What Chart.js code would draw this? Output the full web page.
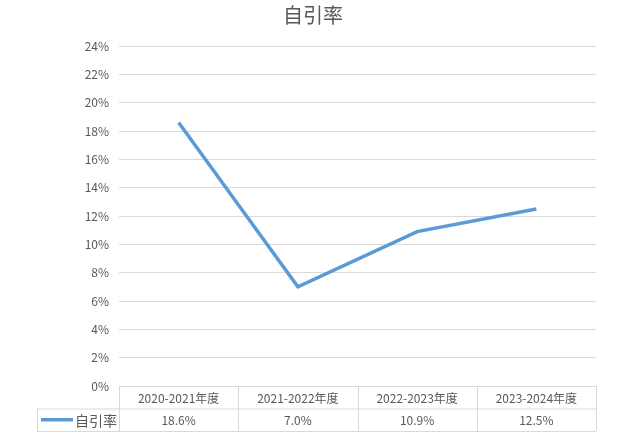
<!DOCTYPE html>
<html><head><meta charset="utf-8">
<script src="https://cdn.jsdelivr.net/npm/chart.js@4"></script>
<style>html,body{margin:0;padding:0;background:#fff}#wrap{width:644px;height:447px}</style>
</head><body><div id="wrap"><canvas id="c" width="644" height="447"></canvas></div>
<script>
const categories = ['2020-2021年度','2021-2022年度','2022-2023年度','2023-2024年度'];
const seriesName = '自引率';
const seriesValues = [18.6, 7.0, 10.9, 12.5];
const valueLabels = ['18.6%','7.0%','10.9%','12.5%'];
const titleText = '自引率';

const FONT = '"Microsoft YaHei","Noto Sans CJK SC","Noto Sans",sans-serif';
const TXT = '#595959';
const LINE = '#5B9BD5';
const GRID = '#D9D9D9';

const tablePlugin = {
  id: 'dataTable',
  afterDraw(chart) {
    const ctx = chart.ctx, x = chart.scales.x, y = chart.scales.y;
    const top = y.bottom, left = x.left, right = x.right;
    const rowH = 22.5;
    const tableLeft = 37;
    ctx.save();
    // title
    ctx.fillStyle = TXT; ctx.textAlign = 'center'; ctx.textBaseline = 'middle';
    ctx.font = '20px ' + FONT;
    ctx.fillText(titleText, 313, 15);
    ctx.strokeStyle = GRID; ctx.lineWidth = 1;
    ctx.beginPath();
    ctx.moveTo(tableLeft, top + rowH + 0.5); ctx.lineTo(right, top + rowH + 0.5);
    ctx.moveTo(tableLeft, top + 2*rowH + 0.5); ctx.lineTo(right, top + 2*rowH + 0.5);
    const n = categories.length;
    const w = (right - left) / n;
    for (let i = 0; i <= n; i++) {
      const xx = Math.round(left + i*w) + 0.5;
      ctx.moveTo(xx, top); ctx.lineTo(xx, top + 2*rowH);
    }
    ctx.moveTo(tableLeft + 0.5, top + rowH); ctx.lineTo(tableLeft + 0.5, top + 2*rowH);
    ctx.stroke();
    ctx.fillStyle = TXT;
    ctx.textAlign = 'center'; ctx.textBaseline = 'middle';
    ctx.font = '12px ' + FONT;
    categories.forEach((c, i) => {
      const cx = x.getPixelForValue(i);
      ctx.fillText(c, cx, top + rowH/2 + 1);
      ctx.fillText(valueLabels[i], cx, top + rowH*1.5 + 1);
    });
    ctx.strokeStyle = LINE; ctx.lineWidth = 3.5;
    ctx.beginPath(); ctx.moveTo(41, top + rowH*1.5); ctx.lineTo(73, top + rowH*1.5); ctx.stroke();
    ctx.save();
    ctx.beginPath(); ctx.rect(tableLeft, top + rowH, left - tableLeft - 2, rowH); ctx.clip();
    ctx.textAlign = 'left'; ctx.font = '14px ' + FONT; ctx.fillStyle = TXT;
    ctx.fillText(seriesName, 75, top + rowH*1.5 + 1);
    ctx.restore();
    ctx.restore();
  }
};

new Chart(document.getElementById('c'), {
  type: 'line',
  data: {
    labels: categories,
    datasets: [{
      label: seriesName,
      data: seriesValues,
      borderColor: LINE,
      borderWidth: 3.5,
      pointRadius: 0,
      tension: 0,
      fill: false
    }]
  },
  options: {
    responsive: false,
    animation: false,
    layout: { padding: { left: 0, right: 48, top: 46, bottom: 61 } },
    plugins: {
      legend: { display: false },
      tooltip: { enabled: false },
      title: { display: false }
    },
    scales: {
      x: { type: 'category', offset: true, display: false },
      y: {
        min: 0, max: 24,
        afterFit(s) { s.width = 119; },
        ticks: { stepSize: 2, color: TXT, padding: 10, font: { family: FONT, size: 12 },
          callback: v => v + '%' },
        grid: { color: GRID, drawTicks: false },
        border: { display: false }
      }
    }
  },
  plugins: [tablePlugin]
});
</script></body></html>
